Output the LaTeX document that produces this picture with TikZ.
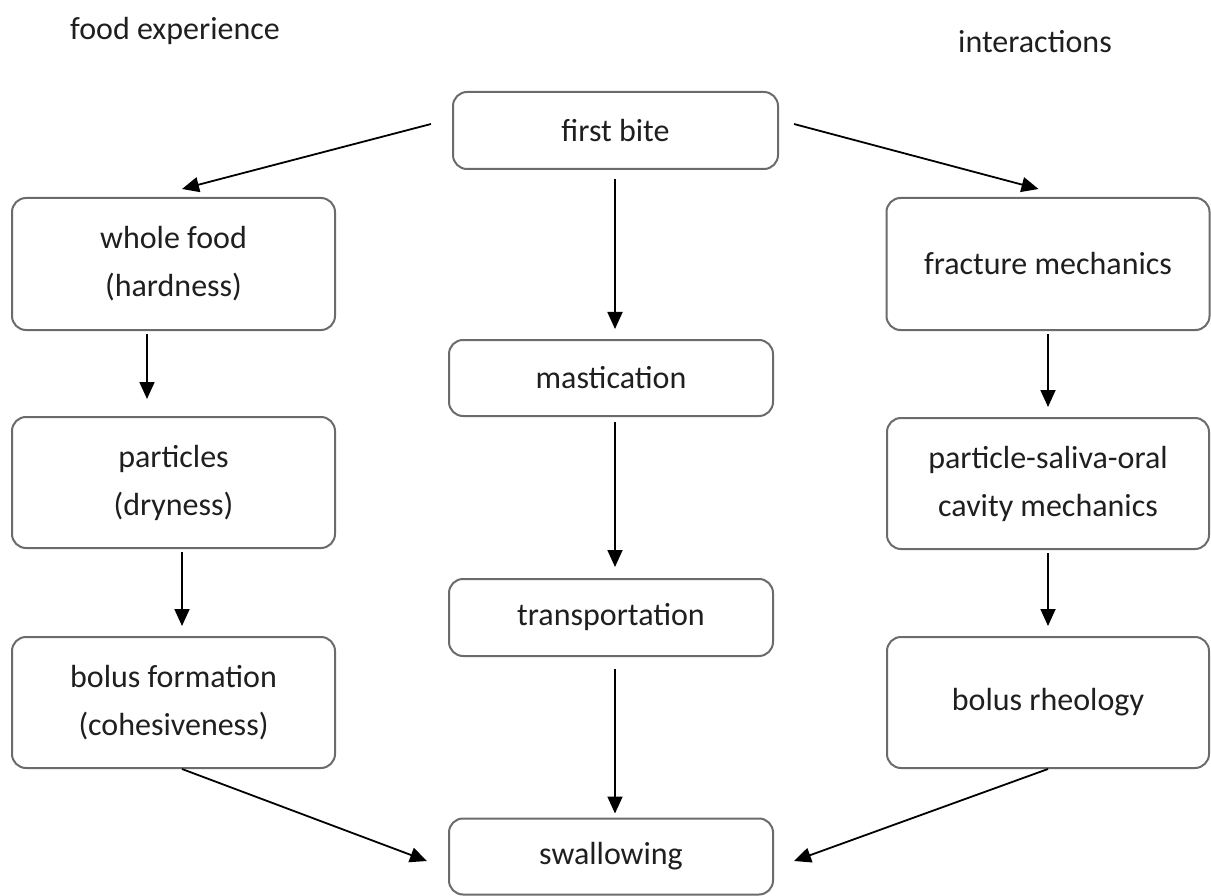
\documentclass[tikz,border=0pt]{standalone}
\usepackage{fontspec}
\setmainfont{Carlito}
\usetikzlibrary{arrows.meta}
\begin{document}
\begin{tikzpicture}[x=1pt,y=-1pt,
  box/.style={draw=black!58,line width=2pt,rounded corners=14pt,fill=white,
    align=center,inner sep=0pt,font=\fontsize{32}{48}\selectfont,text=black!88},
  arr/.style={line width=1.8pt,-{Triangle[length=17pt,width=15pt]}},
  lbl/.style={font=\fontsize{32}{36}\selectfont,text=black!88,inner sep=0pt}]
\useasboundingbox (0,0) rectangle (1211,896);
\node[box,minimum width=325pt,minimum height=77pt] (fb) at (615.5,130.5) {first bite};
\node[box,minimum width=323pt,minimum height=132pt] (wf) at (173.5,264) {whole food\\(hardness)};
\node[box,minimum width=323pt,minimum height=132pt] (fm) at (1048,264) {fracture mechanics};
\node[box,minimum width=324pt,minimum height=76pt] (ma) at (611,378) {mastication};
\node[box,minimum width=323pt,minimum height=131pt] (pa) at (173.5,482.5) {particles\\(dryness)};
\node[box,minimum width=322pt,minimum height=131pt] (ps) at (1048,483.5) {particle-saliva-oral\\cavity mechanics};
\node[box,minimum width=324pt,minimum height=77pt] (tr) at (611,617.5) {transportation};
\node[box,minimum width=323pt,minimum height=131pt] (bf) at (173.5,702.5) {bolus formation\\(cohesiveness)};
\node[box,minimum width=322pt,minimum height=131pt] (br) at (1048,702.5) {bolus rheology};
\node[box,minimum width=324pt,minimum height=76pt] (sw) at (611,856.5) {swallowing};
\node[lbl] (fe) at (175,31) {food experience};
\node[lbl] (ia) at (1035,42) {interactions};
% diagonal arrows
\draw[arr] ([xshift=-21pt,yshift=6.5pt]fb.west) -- ([xshift=8.5pt,yshift=8pt]wf.north);
\draw[arr] ([xshift=15pt,yshift=6.5pt]fb.east) -- ([xshift=-9.5pt,yshift=8pt]fm.north);
\draw[arr] ([xshift=8.5pt]bf.south) -- ([xshift=-21pt,yshift=-4.5pt]sw.west);
\draw[arr] ([xshift=0pt]br.south) -- ([xshift=20pt,yshift=-4.5pt]sw.east);
% vertical arrows
\draw[arr,shorten <=9pt,shorten >=10pt] ([xshift=4pt]ma.north |- fb.south) -- ([xshift=4pt]ma.north);
\draw[arr,shorten <=5pt,shorten >=11pt] ([xshift=4pt]ma.south) -- ([xshift=4pt]tr.north);
\draw[arr,shorten <=12pt,shorten >=4pt] ([xshift=4pt]tr.south) -- ([xshift=4pt]sw.north);
\draw[arr,shorten <=3pt,shorten >=17pt] ([xshift=-26.5pt]wf.south) -- ([xshift=-26.5pt]pa.north);
\draw[arr,shorten <=3pt,shorten >=10pt] ([xshift=8.5pt]pa.south) -- ([xshift=8.5pt]bf.north);
\draw[arr,shorten <=3pt,shorten >=10pt] (fm.south) -- (fm.south |- ps.north);
\draw[arr,shorten <=3pt,shorten >=10pt] (ps.south) -- (br.north);
\end{tikzpicture}
\end{document}
